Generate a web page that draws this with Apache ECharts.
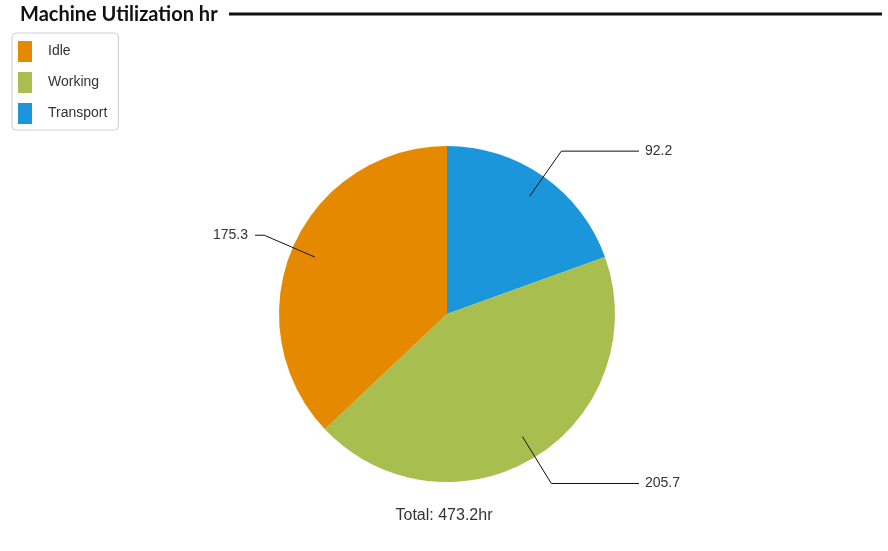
<!DOCTYPE html>
<html>
<head>
<meta charset="utf-8">
<script src="https://cdn.jsdelivr.net/npm/echarts@6/dist/echarts.min.js"></script>
<style>
html,body{margin:0;padding:0;background:#fff;}
#chart{width:888px;height:551px;}
</style>
</head>
<body>
<div id="chart"></div>
<script>
// Data
var categories = ['Idle', 'Working', 'Transport'];
var values = [175.3, 205.7, 92.2];
var colors = ['#E58A00', '#A8BF50', '#1B96DA'];
var chartTitle = 'Machine Utilization hr';
var unit = 'hr';

// drawing order clockwise from 12 o'clock: Transport, Working, Idle
var drawOrder = [2, 1, 0];

var total = values.reduce(function (a, b) { return a + b; }, 0);
var cx = 447, cy = 314, R = 168;
var labelEndDist = 192;

var pieData = drawOrder.map(function (i) {
  return { name: categories[i], value: values[i], itemStyle: { color: colors[i] } };
});
var labelData = drawOrder.map(function (i) {
  return { name: categories[i], value: values[i] };
});

var chart = echarts.init(document.getElementById('chart'), null, { renderer: 'canvas' });
var option = {
  animation: false,
  backgroundColor: '#ffffff',
  title: [{
    text: chartTitle,
    left: 15, top: 0,
    textStyle: { fontFamily: 'Lato', fontWeight: 'bold', fontSize: 20, color: '#111' }
  }, {
    text: 'Total: ' + total.toFixed(1) + unit,
    left: 'center', top: 503,
    textStyle: { fontFamily: 'Liberation Sans, Arial', fontWeight: 'normal', fontSize: 16, color: '#333' }
  }],
  legend: {
    orient: 'vertical',
    left: 12, top: 33,
    data: categories,
    itemWidth: 14, itemHeight: 21, itemGap: 10,
    padding: [8, 11, 6, 6],
    borderColor: '#d0d0d0', borderWidth: 1, borderRadius: 4,
    icon: 'rect',
    selectedMode: false,
    textStyle: { fontFamily: 'Liberation Sans, Arial', fontSize: 14, color: '#333', padding: [0, 0, 0, 11] }
  },
  graphic: [{
    type: 'line',
    shape: { x1: 229, y1: 14, x2: 882, y2: 14 },
    style: { stroke: '#111', lineWidth: 3 }
  }],
  series: [{
    type: 'pie',
    center: [cx, cy],
    radius: [0, R],
    startAngle: 90,
    clockwise: true,
    silent: true,
    z: 2,
    label: { show: false },
    labelLine: { show: false },
    data: pieData
  }, {
    type: 'pie',
    center: [cx, cy],
    radius: [0, 144],
    startAngle: 90,
    clockwise: true,
    silent: true,
    z: 5,
    itemStyle: { color: 'rgba(0,0,0,0)' },
    label: {
      show: true, position: 'outside',
      formatter: function (p) { return p.value.toFixed(1); },
      fontFamily: 'Liberation Sans, Arial', fontSize: 14, color: '#333'
    },
    labelLine: { show: true, length: 55, length2: 12, smooth: false, lineStyle: { color: '#111', width: 1 } },
    labelLayout: function (p) {
      var pts = p.labelLinePoints;
      if (!pts) return {};
      var isRight = pts[1][0] > cx;
      var endX = isRight ? cx + labelEndDist : cx - labelEndDist;
      return {
        x: isRight ? endX + 6 : endX - 7,
        y: pts[1][1],
        align: isRight ? 'left' : 'right',
        verticalAlign: 'middle',
        labelLinePoints: [pts[0], pts[1], [endX, pts[1][1]]]
      };
    },
    data: labelData
  }]
};
chart.setOption(option);
</script>
</body>
</html>
